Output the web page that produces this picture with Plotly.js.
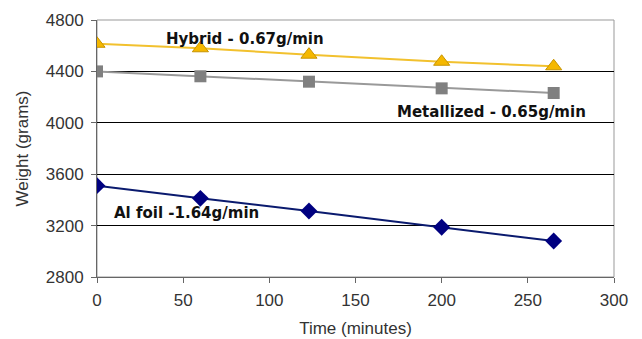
<!DOCTYPE html>
<html><head><meta charset="utf-8">
<script src="https://cdn.plot.ly/plotly-3.0.1.min.js"></script>
<style>html,body{margin:0;padding:0;background:#fff}#c{width:642px;height:339px}</style>
</head><body><div id="c"></div>
<script>
const timeMin = [0, 60, 123, 200, 265];
const hybrid = [4615, 4580, 4530, 4475, 4440];
const metallized = [4400, 4362, 4320, 4268, 4232];
const alFoil = [3511, 3412, 3314, 3187, 3080];
const labels = ["Hybrid - 0.67g/min", "Metallized - 0.65g/min", "Al foil -1.64g/min"];
const labelX = [86, 229, 52];
const labelY = [4652, 4084, 3296];

const traces = [
  {x: timeMin, y: hybrid, mode: 'lines+markers', name: 'Hybrid',
   line: {color: '#F2C12E', width: 2},
   marker: {symbol: 'triangle-up', size: 14, color: '#F5B800', line: {color: '#C89400', width: 1}}},
  {x: timeMin, y: metallized, mode: 'lines+markers', name: 'Metallized',
   line: {color: '#999999', width: 2},
   marker: {symbol: 'square', size: 12, color: '#808080', line: {width: 0}}},
  {x: timeMin, y: alFoil, mode: 'lines+markers', name: 'Al foil',
   line: {color: '#0A1A6E', width: 2},
   marker: {symbol: 'diamond', size: 13, color: '#000080', line: {width: 0}}}
];

const tickFont = {family: 'Liberation Sans, Arial, sans-serif', size: 17, color: '#333'};
const layout = {
  width: 642, height: 339,
  margin: {l: 97, r: 28, t: 20, b: 62},
  paper_bgcolor: '#fff', plot_bgcolor: '#fff',
  showlegend: false,
  font: {family: 'Liberation Sans, Arial, sans-serif', size: 17, color: '#333'},
  xaxis: {range: [0, 300], tickvals: [0,50,100,150,200,250,300], showgrid: false, zeroline: false,
    showline: true, linecolor: '#666', linewidth: 1, ticks: 'outside', ticklen: 5, tickcolor: '#666',
    tickfont: tickFont, ticklabelstandoff: 3,
    title: {text: 'Time (minutes)', font: tickFont, standoff: 12}},
  yaxis: {range: [2800, 4800], tickvals: [2800,3200,3600,4000,4400,4800], showgrid: true, gridcolor: '#000', gridwidth: 1,
    zeroline: false, showline: true, linecolor: '#666', linewidth: 1, ticks: 'outside', ticklen: 5, tickcolor: '#666',
    tickfont: tickFont, ticklabelstandoff: 4,
    title: {text: 'Weight (grams)', font: tickFont, standoff: 12}},
  shapes: [{type: 'rect', xref: 'paper', yref: 'paper', x0: 0, x1: 1, y0: 0, y1: 1,
    line: {color: '#999', width: 1}, layer: 'below'}],
  annotations: labels.map((t, i) => ({x: labelX[i], y: labelY[i], xref: 'x', yref: 'y', text: '<b>' + t + '</b>',
    showarrow: false, font: {size: 15, color: '#111', family: 'DejaVu Sans, Verdana, sans-serif'}}))
};
Plotly.newPlot('c', traces, layout, {displayModeBar: false, staticPlot: true});
</script></body></html>
